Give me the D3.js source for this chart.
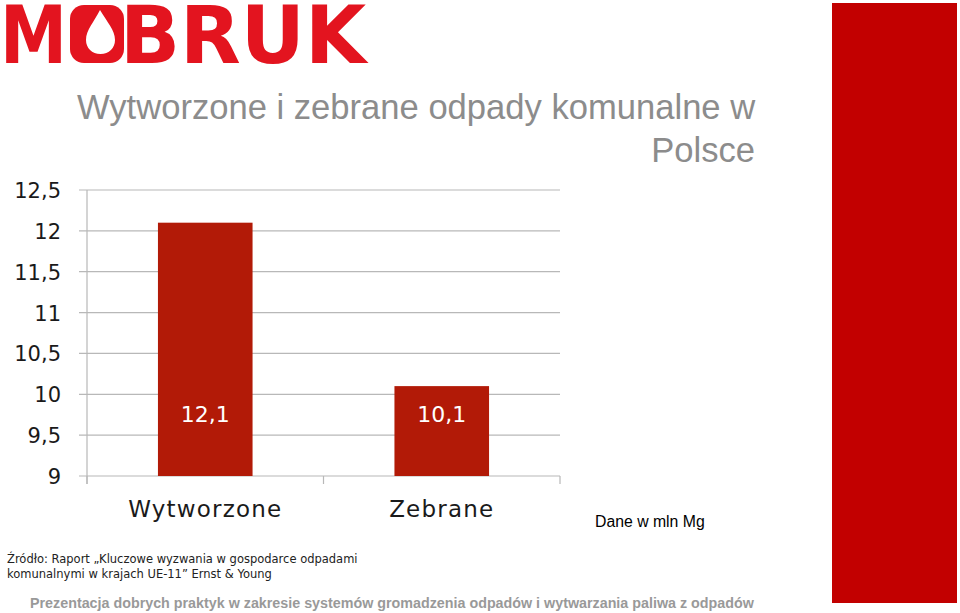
<!DOCTYPE html>
<html><head><meta charset="utf-8">
<script src="https://cdn.jsdelivr.net/npm/d3@7"></script>
<style>html,body{margin:0;padding:0;background:#fff;}svg{display:block;}</style>
</head><body>
<script>
const categories = ["Wytworzone", "Zebrane"];
const values = [12.1, 10.1];
const valueLabels = ["12,1", "10,1"];
const yTicks = [9, 9.5, 10, 10.5, 11, 11.5, 12, 12.5];
const titleLines = ["Wytworzone i zebrane odpady komunalne w", "Polsce"];
const sourceLines = ["Źródło: Raport „Kluczowe wyzwania w gospodarce odpadami", "komunalnymi w krajach UE-11” Ernst & Young"];
const unitNote = "Dane w mln Mg";
const footer = "Prezentacja dobrych praktyk w zakresie systemów gromadzenia odpadów i wytwarzania paliwa z odpadów";

const W = 960, H = 613;
const svg = d3.select("body").append("svg").attr("width", W).attr("height", H);

// Logo
const logoRed = "#e3141f";
const logo = svg.append("g");
const letterFont = "'DejaVu Sans', sans-serif";
function word(s, x0, x1) {
  logo.append("text").attr("x", x0).attr("y", 63).text(s)
    .attr("font-family", letterFont).attr("font-weight", "bold").attr("font-size", 80)
    .attr("fill", logoRed).attr("textLength", x1 - x0).attr("lengthAdjust", "spacingAndGlyphs");
}
word("M", 0, 67);
logo.append("rect").attr("x", 70).attr("y", 5).attr("width", 54).attr("height", 58).attr("rx", 14).attr("fill", logoRed);
logo.append("path").attr("fill", "#fff")
  .attr("d", "M100,10 C94,22 86,30 86,40 C86,48 92,54 100.5,54 C109,54 115,48 115,40 C115,30 107,22 100,10 Z");
word("BRUK", 120, 366);

// Right red bar
svg.append("rect").attr("x", 832).attr("y", 3).attr("width", 125).attr("height", 600).attr("fill", "#c20000");

// Title
const titleFont = "'Liberation Sans', Arial, sans-serif";
svg.append("text").attr("x", 77).attr("y", 119).text(titleLines[0])
  .attr("font-family", titleFont).attr("font-size", 34.6).attr("fill", "#8c8c8c");
svg.append("text").attr("x", 755).attr("y", 162).attr("text-anchor", "end").text(titleLines[1])
  .attr("font-family", titleFont).attr("font-size", 34.6).attr("fill", "#8c8c8c");

// Chart
const plotL = 87, plotR = 560, plotT = 190, plotB = 476;
const x = d3.scaleBand().domain(categories).range([plotL, plotR]).paddingInner(0.6).paddingOuter(0.3);
const y = d3.scaleLinear().domain([9, 12.5]).range([plotB, plotT]);
const chartFont = "'DejaVu Sans', sans-serif";

// gridlines
svg.append("g").selectAll("line").data(yTicks).join("line")
  .attr("x1", plotL - 8).attr("x2", plotR).attr("y1", d => y(d)).attr("y2", d => y(d))
  .attr("stroke", "#b8b8b8").attr("stroke-width", 1.2);

// y axis line
svg.append("line").attr("x1", plotL).attr("x2", plotL).attr("y1", plotT).attr("y2", plotB + 8)
  .attr("stroke", "#b8b8b8").attr("stroke-width", 1.2);
// category ticks
svg.append("g").selectAll("line").data([0, 1, 2]).join("line")
  .attr("x1", i => plotL + i * (plotR - plotL) / categories.length)
  .attr("x2", i => plotL + i * (plotR - plotL) / categories.length)
  .attr("y1", plotB).attr("y2", plotB + 8).attr("stroke", "#b8b8b8").attr("stroke-width", 1.2);

// y tick labels
svg.append("g").selectAll("text").data(yTicks).join("text")
  .attr("x", 61).attr("y", d => y(d) + 8).attr("text-anchor", "end")
  .text(d => String(d).replace(".", ","))
  .attr("font-family", chartFont).attr("font-size", 21).attr("fill", "#1a1a1a");

// bars
svg.append("g").selectAll("rect").data(values).join("rect")
  .attr("x", (d, i) => x(categories[i])).attr("width", x.bandwidth())
  .attr("y", d => y(d)).attr("height", d => plotB - y(d)).attr("fill", "#b21a07");

// value labels
svg.append("g").selectAll("text").data(valueLabels).join("text")
  .attr("x", (d, i) => x(categories[i]) + x.bandwidth() / 2).attr("y", plotB - 54)
  .attr("text-anchor", "middle").text(d => d)
  .attr("font-family", chartFont).attr("font-size", 22).attr("fill", "#fff");

// category labels
svg.append("g").selectAll("text").data(categories).join("text")
  .attr("x", d => x(d) + x.bandwidth() / 2).attr("y", 517)
  .attr("text-anchor", "middle").text(d => d)
  .attr("font-family", chartFont).attr("font-size", 23).attr("letter-spacing", 1.2).attr("fill", "#1a1a1a");

// unit note
svg.append("text").attr("x", 595).attr("y", 527).text(unitNote)
  .attr("font-family", titleFont).attr("font-size", 15.8).attr("fill", "#000");

// source
svg.append("g").selectAll("text").data(sourceLines).join("text")
  .attr("x", 7).attr("y", (d, i) => 563 + i * 15).text(d => d)
  .attr("font-family", chartFont).attr("font-size", 11.5).attr("fill", "#222");

// footer
svg.append("text").attr("x", 30).attr("y", 608).text(footer)
  .attr("font-family", titleFont).attr("font-weight", "bold").attr("font-size", 14.3).attr("fill", "#999");
</script>
</body></html>
